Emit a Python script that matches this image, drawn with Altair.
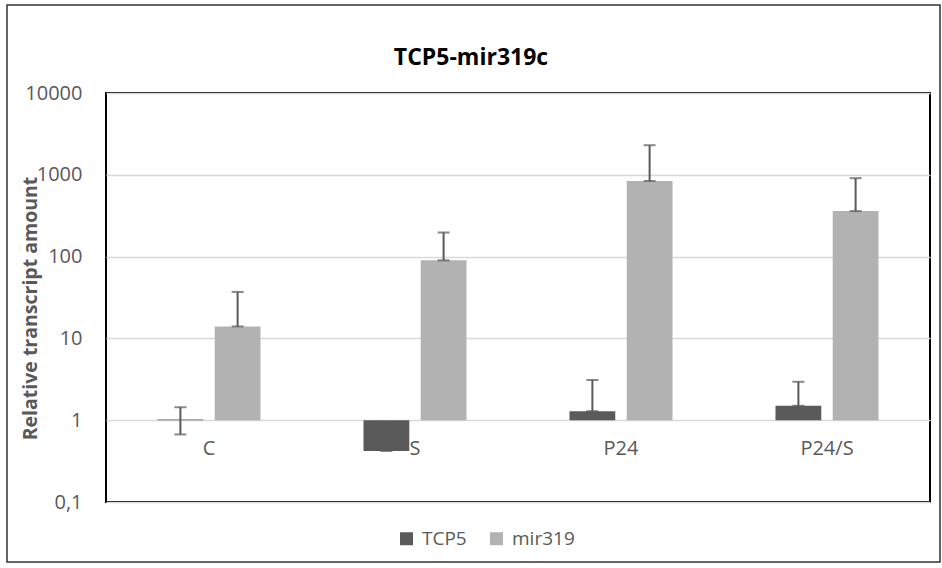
import altair as alt
import pandas as pd

categories = ["C", "S", "P24", "P24/S"]
series = ["TCP5", "mir319"]
tcp5_values = [1.02, 0.42, 1.29, 1.50]
tcp5_err_low = [0.67, 0.42, 1.29, 1.50]
tcp5_err_high = [1.44, 0.89, 3.1, 2.95]
mir319_values = [14.0, 90.0, 840.0, 360.0]
mir319_err_low = [14.0, 90.0, 840.0, 360.0]
mir319_err_high = [37.0, 197.0, 2300.0, 910.0]
y_ticks = [0.1, 1, 10, 100, 1000, 10000]
chart_title = "TCP5-mir319c"
colors = ["#5a5a5a", "#b2b2b2"]

rows = []
for i, c in enumerate(categories):
    rows.append(dict(cat=c, series="TCP5", value=tcp5_values[i],
                     lo=tcp5_err_low[i], hi=tcp5_err_high[i], base=1))
    rows.append(dict(cat=c, series="mir319", value=mir319_values[i],
                     lo=mir319_err_low[i], hi=mir319_err_high[i], base=1))
df = pd.DataFrame(rows)

FONT = "Open Sans"
TEXT_GRAY = "#595959"

x_axis = alt.Axis(title=None, labelAngle=0, domain=False, ticks=False, tickSize=0,
                  offset=-82, labelPadding=18, labelFont=FONT, labelFontSize=20,
                  labelColor=TEXT_GRAY, grid=False)
y_axis = alt.Axis(title="Relative transcript amount", values=y_ticks,
                  labelExpr="replace(toString(datum.value), '.', ',')",
                  domain=False, ticks=False, tickSize=0, labelPadding=24,
                  labelFont=FONT, labelFontSize=20, labelColor=TEXT_GRAY,
                  grid=True, gridColor="#d9d9d9", gridWidth=1.5,
                  titleFont=FONT, titleFontSize=19.5, titleFontWeight="bold",
                  titleColor=TEXT_GRAY, titleAngle=-90, titleX=-76, titleY=215,
                  titleAlign="center", titleBaseline="middle")

x_enc = alt.X("cat:N", sort=categories,
              scale=alt.Scale(paddingInner=0.5, paddingOuter=0.25), axis=x_axis)
xo_enc = alt.XOffset("series:N", sort=series, scale=alt.Scale(paddingInner=0.2))
y_scale = alt.Scale(type="log", domain=[0.1, 10000], nice=False)

base = alt.Chart(df)

bars = base.mark_bar().encode(
    x=x_enc,
    xOffset=xo_enc,
    y=alt.Y("value:Q", scale=y_scale, axis=y_axis),
    y2="base:Q",
    color=alt.Color("series:N", sort=series,
                    scale=alt.Scale(domain=series, range=colors),
                    legend=alt.Legend(title=None, orient="none", legendX=291, legendY=436,
                                      direction="horizontal", symbolType="square",
                                      symbolSize=169, symbolStrokeWidth=0,
                                      labelFont=FONT, labelFontSize=19,
                                      labelColor=TEXT_GRAY, columnPadding=20,
                                      labelOffset=6)),
)

err = base.mark_rule(color="#595959", strokeWidth=2).encode(
    x=x_enc, xOffset=xo_enc,
    y=alt.Y("lo:Q", scale=y_scale, axis=y_axis),
    y2="hi:Q",
)
cap_hi = base.mark_tick(color="#595959", thickness=2, size=12, orient="horizontal").encode(
    x=x_enc, xOffset=xo_enc,
    y=alt.Y("hi:Q", scale=y_scale, axis=y_axis),
)
cap_lo = base.mark_tick(color="#595959", thickness=2, size=12, orient="horizontal").encode(
    x=x_enc, xOffset=xo_enc,
    y=alt.Y("lo:Q", scale=y_scale, axis=y_axis),
)

one = alt.Chart(pd.DataFrame({"t": [chart_title]}))
border = one.mark_rect(filled=False, stroke="#333333", strokeWidth=1.5).encode(
    x=alt.value(-99), x2=alt.value(834), y=alt.value(-88), y2=alt.value(469)
)
title = one.mark_text(font=FONT, fontSize=23, fontWeight="bold", color="black",
                      align="center", baseline="middle").encode(
    x=alt.value(365), y=alt.value(-35), text="t:N"
)

chart = alt.layer(bars, err, cap_lo, cap_hi, border, title).properties(
    width=824, height=409,
    autosize=alt.AutoSizeParams(type="none"),
    padding={"left": 106, "top": 93, "right": 12, "bottom": 66},
).configure_view(stroke="black", strokeWidth=2)

chart.save("out.html", embed_options={"renderer": "svg", "actions": False})
